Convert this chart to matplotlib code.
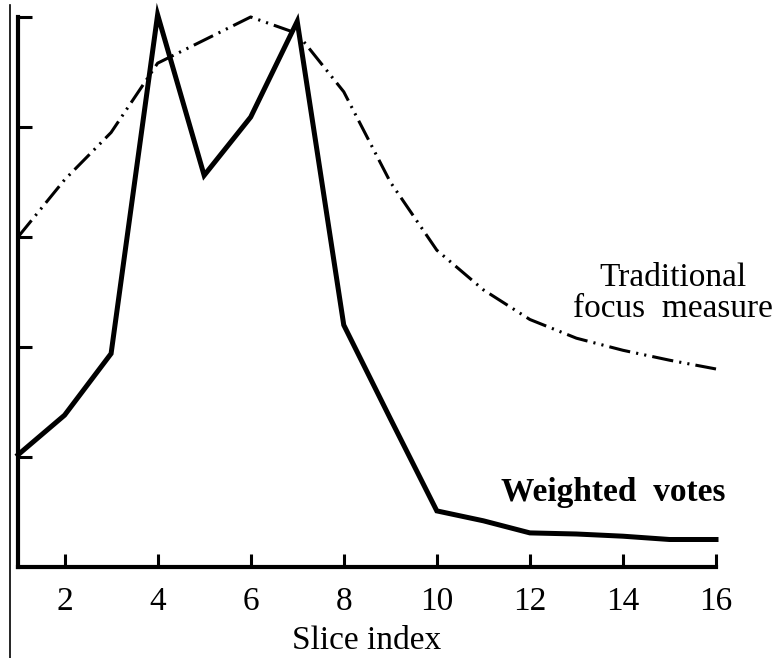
import matplotlib
matplotlib.use("Agg")
import matplotlib.pyplot as plt
from matplotlib.lines import Line2D

plt.rcParams['font.family'] = ['Liberation Serif', 'DejaVu Serif']

slices = [1, 2, 3, 4, 5, 6, 7, 8, 9, 10, 11, 12, 13, 14, 15, 16]
weighted_votes = [1.02, 1.38, 1.94, 5.02, 3.56, 4.09, 4.96, 2.2, 1.35, 0.51,
                  0.42, 0.31, 0.30, 0.28, 0.25, 0.25]
traditional = [3.0, 3.52, 3.95, 4.58, 4.79, 5.0, 4.85, 4.32, 3.5, 2.88,
               2.52, 2.25, 2.08, 1.97, 1.88, 1.8]
xticks = [2, 4, 6, 8, 10, 12, 14, 16]
yticks = [1, 2, 3, 4, 5]

fig = plt.figure(figsize=(7.77, 6.58), dpi=100)
ax = fig.add_axes([0.0232, 0.1383, 0.8983, 0.8359])

ax.plot(slices, weighted_votes, color='black', lw=3.6, clip_on=False,
        solid_joinstyle='miter')
ax.plot(slices, traditional, color='black', lw=2.2, clip_on=False,
        dashes=(7.0, 2.0, 0.7, 2.0, 0.7, 2.0))

ax.set_xlim(1, 16)
ax.set_ylim(0, 5)
ax.set_xticks(xticks)
ax.set_yticks(yticks)
ax.set_yticklabels([])
ax.tick_params(direction='in', length=9.5, width=2.2, labelsize=24, pad=14)
ax.tick_params(axis='y', length=10)
for s in ['top', 'right']:
    ax.spines[s].set_visible(False)
for s in ['left', 'bottom']:
    ax.spines[s].set_linewidth(3)

ax.set_xlabel('Slice index', fontsize=24, labelpad=6)

ax.text(15.07, 2.49, 'Traditional\nfocus  measure', fontsize=24,
        ha='center', va='center', multialignment='center', linespacing=1.0)
ax.text(13.8, 0.68, 'Weighted  votes', fontsize=24, fontweight='bold',
        ha='center', va='center')

# thin frame line at the left edge
fig.add_artist(Line2D([0.0135, 0.0135], [0, 0.992], color='black', lw=1.2))

fig.savefig('out.png', dpi=100)
